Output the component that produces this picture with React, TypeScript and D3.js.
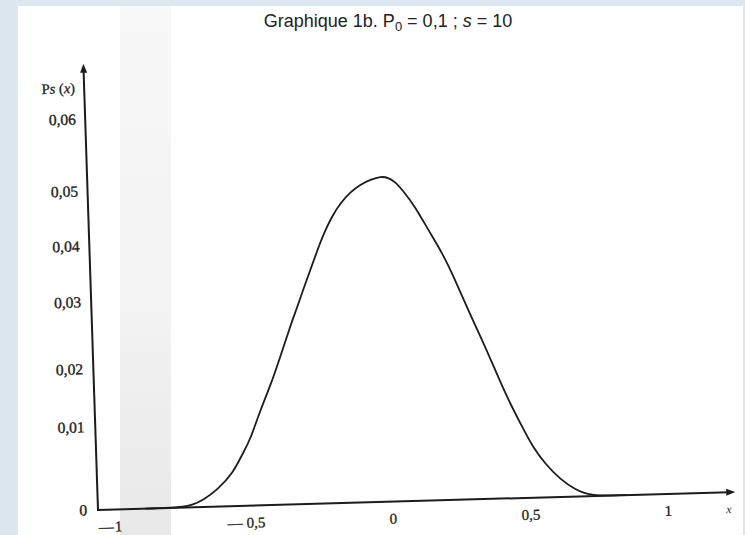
import React from 'react';
import * as d3 from 'd3';

// ---- data ----
const xTickValues = [-1, -0.5, 0, 0.5, 1];
const xTickLabels = ['—1', '— 0,5', '0', '0,5', '1'];
const yTickValues = [0, 0.01, 0.02, 0.03, 0.04, 0.05, 0.06];
const yTickLabels = ['0', '0,01', '0,02', '0,03', '0,04', '0,05', '0,06'];

const curveX = [-0.9, -0.781, -0.728, -0.69, -0.638, -0.578, -0.54, -0.513, -0.473, -0.435, -0.395, -0.356, -0.328, -0.305, -0.277, -0.249, -0.226, -0.191, -0.161, -0.123, -0.086, -0.049, -0.01, 0.016, 0.04, 0.065, 0.111, 0.156, 0.205, 0.249, 0.293, 0.341, 0.385, 0.429, 0.477, 0.512, 0.558, 0.611, 0.664, 0.718, 0.85];
const curveY = [0, 0, 0.0003, 0.00084, 0.002, 0.004, 0.0064, 0.0079, 0.0121, 0.0161, 0.021, 0.0255, 0.0284, 0.0311, 0.0346, 0.0381, 0.0409, 0.0443, 0.0465, 0.0485, 0.0498, 0.0505, 0.0509, 0.0507, 0.0501, 0.0487, 0.0455, 0.0412, 0.037, 0.0321, 0.0272, 0.0227, 0.0179, 0.0127, 0.0086, 0.0062, 0.004, 0.0021, 0.00084, 0, 0];

const xDomain = [-1.073, 1.245];
const yArrowTop = 0.0677;

export default function App() {
  const W = 745;
  const H = 535;
  const axisLen = 637.5;
  // hand-drawn (non-uniform) vertical axis of the scanned figure
  const yStops = [0, -83, -141, -208, -264, -319, -391];
  const xScale = d3.scaleLinear().domain(xDomain).range([0, axisLen]);
  const yScale = d3
    .scaleLinear()
    .domain([...yTickValues, yArrowTop])
    .range([...yStops, -446.5]);

  const pts: [number, number][] = curveX.map((x, i) => [x, curveY[i]]);
  const line = d3
    .line<[number, number]>()
    .x((d) => xScale(d[0]))
    .y((d) => yScale(d[1]))
    .curve(d3.curveBasis);

  const labelFont = '"Liberation Serif", "Times New Roman", serif';
  const ink = '#1c1c1c';
  const xEnd = xScale(xDomain[1]);
  const yTop = yScale(yArrowTop);

  return (
    <svg
      width={W}
      height={H}
      style={{ position: 'absolute', left: 0, top: 0, display: 'block' }}
    >
      <defs>
        <linearGradient id="scanband" x1="0" y1="0" x2="0" y2="1">
          <stop offset="0" stopColor="#f8f8f8" />
          <stop offset="0.6" stopColor="#f2f2f2" />
          <stop offset="1" stopColor="#e8e8e8" />
        </linearGradient>
      </defs>
      <rect x={0} y={0} width={W} height={H} fill="#dde7ef" />
      <rect x={18} y={6} width={725} height={H - 6} fill="#ffffff" />
      <rect x={120} y={6} width={51} height={H - 6} fill="url(#scanband)" />

      <text
        x={388}
        y={27}
        textAnchor="middle"
        fontFamily='"Liberation Sans", Arial, sans-serif'
        fontSize={18}
        fill="#222"
      >
        Graphique 1b. P
        <tspan fontSize={13} dy={4}>0</tspan>
        <tspan dy={-4}> = 0,1 ; </tspan>
        <tspan fontStyle="italic">s</tspan>
        <tspan> = 10</tspan>
      </text>

      <g transform="translate(98,510) rotate(-1.62)">
        {/* axes */}
        <line x1={0} y1={0} x2={xEnd - 6} y2={0} stroke={ink} strokeWidth={2} />
        <path d={`M${xEnd},0 L${xEnd - 9},-3.5 L${xEnd - 9},3.5 Z`} fill={ink} />
        <line x1={0} y1={1} x2={-2} y2={yTop + 6} stroke={ink} strokeWidth={2} />
        <path d={`M-2,${yTop} L-5.5,${yTop + 9} L1.5,${yTop + 9} Z`} fill={ink} />

        {/* curve */}
        <path d={line(pts) || ''} fill="none" stroke={ink} strokeWidth={1.8} strokeLinejoin="round" />

        {/* y tick labels */}
        {yTickValues.map((v, i) => (
          <text
            key={'y' + i}
            x={-11}
            y={yScale(v) + 5}
            textAnchor="end"
            fontFamily={labelFont}
            fontSize={15.5}
            fill={ink}
            stroke={ink}
            strokeWidth={0.35}
          >
            {yTickLabels[i]}
          </text>
        ))}

        {/* y axis title */}
        <text
          x={-11}
          y={yTop + 29}
          textAnchor="end"
          fontFamily={labelFont}
          fontSize={14.5}
          fill={ink}
          stroke={ink}
          strokeWidth={0.3}
        >
          P<tspan fontStyle="italic">s</tspan> (<tspan fontStyle="italic">x</tspan>)
        </text>

        {/* x tick labels */}
        {xTickValues.map((v, i) => {
          const m = xTickLabels[i].match(/^(—\s?)?(.*)$/);
          const dash = m && m[1] ? '—' : '';
          const num = m ? m[2] : xTickLabels[i];
          const half = num.replace(',', '').length * 3.75 + (num.includes(',') ? 1.9 : 0);
          const cx = xScale(v);
          return (
            <g key={'x' + i}>
              <text
                x={cx}
                y={22}
                textAnchor="middle"
                fontFamily={labelFont}
                fontSize={15}
                fill={ink}
                stroke={ink}
                strokeWidth={0.3}
              >
                {num}
              </text>
              {dash && (
                <text
                  x={cx - half - (m && m[1] && m[1].length > 1 ? 4 : 1)}
                  y={22}
                  textAnchor="end"
                  fontFamily={labelFont}
                  fontSize={15}
                  fill={ink}
                  stroke={ink}
                  strokeWidth={0.3}
                >
                  {dash}
                </text>
              )}
            </g>
          );
        })}

        {/* x axis title */}
        <text
          x={xScale(1.22)}
          y={21}
          textAnchor="middle"
          fontFamily={labelFont}
          fontStyle="italic"
          fontSize={12}
          fill={ink}
        >
          x
        </text>
      </g>
    </svg>
  );
}
